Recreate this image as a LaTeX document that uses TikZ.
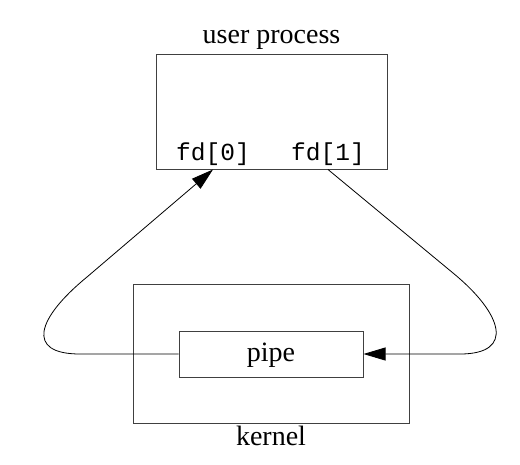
\documentclass[tikz,border=0pt]{standalone}
\usepackage{fontspec}
\setmainfont{Liberation Serif}
\setmonofont{Liberation Mono}
\usetikzlibrary{arrows.meta}
\begin{document}
\begin{tikzpicture}[x=1pt,y=-1pt,
  box/.style={draw=black!75,line width=1pt,inner sep=0pt,rectangle},
  conn/.style={draw=black,line width=0.8pt},
  tip/.style={-{Triangle[length=22pt,width=13pt]}},
  lbl/.style={font=\fontsize{28}{30}\selectfont,anchor=base,inner sep=0pt},
  code/.style={font=\ttfamily\fontsize{24.5}{26}\selectfont,anchor=base,inner sep=0pt}]
\path[use as bounding box] (0,0) rectangle (520,464);
\node[box,minimum width=231pt,minimum height=115pt] (user) at (271.5,111.5) {};
\node[lbl] (ulabel) at (271.5,43) {user process};
\node[code] (fd0) at (213,160) {fd[0]};
\node[code] (fd1) at (328,160) {fd[1]};
\node[box,minimum width=276pt,minimum height=139pt] (kernel) at (271,353.5) {};
\node[lbl] (klabel) at (271,445) {kernel};
\node[box,minimum width=184pt,minimum height=46pt,fill=white] (pipe) at (271,354) {};
\node[lbl] (plabel) at (271,361) {pipe};
\coordinate (in0) at (fd0 |- user.south);
\coordinate (out1) at (fd1 |- user.south);
\coordinate (lb) at (80,354);
\coordinate (ld) at (87,277);
\coordinate (rd) at (453,273);
\coordinate (rb) at (460,354);
\draw[conn,tip] (pipe.west) -- (lb) .. controls (25,354) and (37,318) .. (ld) -- (in0);
\draw[conn,tip] (out1) -- (rd) .. controls (503,314) and (515,354) .. (rb) -- (pipe.east);
\end{tikzpicture}
\end{document}
